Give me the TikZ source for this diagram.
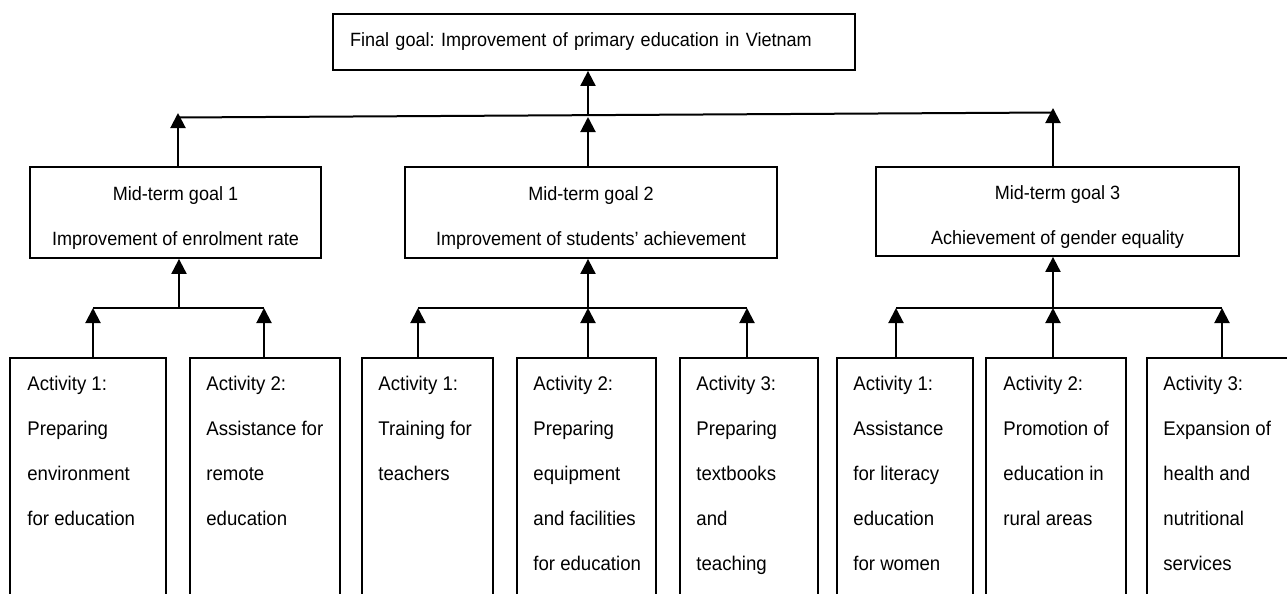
\documentclass[tikz,border=0pt]{standalone}
\usepackage{fontspec}
\setmainfont[FakeStretch=0.94]{Liberation Sans}
\usetikzlibrary{arrows.meta}
\frenchspacing

\begin{document}
\begin{tikzpicture}[x=0.5pt, y=-0.5pt,
	every node/.style={font=\fontsize{9.6}{22.5}\selectfont},
	goalbox/.style={draw, line width=0.9pt, align=center, inner sep=0pt, text height=35pt, text depth=2pt},
	actbox/.style={draw, line width=0.9pt, anchor=north west, inner sep=0pt, minimum height=135pt},
	acttext/.style={anchor=north west, align=left, inner sep=0pt, font=\fontsize{9.9}{22.5}\selectfont},
	arr/.style={line width=1pt, -{Triangle[width=7.5pt,length=7.5pt]}},
	link/.style={line width=1pt}]
	\useasboundingbox (0,0) rectangle (1287,594);
	\clip (0,0) rectangle (1287,594);

	\node[draw, line width=0.9pt, align=left, text width=244pt, inner xsep=8.5pt, minimum height=28pt](G) at (594,42){Final goal: Improvement of primary education in Vietnam};

	\node[goalbox, minimum width=145.5pt, minimum height=45.5pt](M1) at (175.5,212.5){Mid-term goal 1\\Improvement of enrolment rate};
	\node[goalbox, minimum width=186pt, minimum height=45.5pt](M2) at (591,212.5){Mid-term goal 2\\Improvement of students’ achievement};
	\node[goalbox, minimum width=181.5pt, minimum height=44.5pt](M3) at (1057.5,211.5){Mid-term goal 3\\Achievement of gender equality};

	\coordinate(T1) at (178,113);
	\coordinate(T2) at (588,117);
	\coordinate(T3) at (1053,108);
	\coordinate(L1) at (178,117.5);
	\coordinate(L2) at (588,115.2);
	\coordinate(L3) at (1053,112.5);

	\draw[link] (L1) -- (L3);
	\draw[arr] (M1.north -| T1) -- (T1);
	\draw[arr] (M2.north -| T2) -- (T2);
	\draw[arr] (M3.north -| T3) -- (T3);
	\draw[arr] (L2) -- (G.south -| L2);

	% activities
	\node[actbox, minimum width=78pt](A11) at (9,357){};
	\node[actbox, minimum width=75pt](A12) at (189,357){};
	\node[actbox, minimum width=65.5pt](A21) at (361,357){};
	\node[actbox, minimum width=69.5pt](A22) at (516,357){};
	\node[actbox, minimum width=69pt](A23) at (679,357){};
	\node[actbox, minimum width=68pt](A31) at (836,357){};
	\node[actbox, minimum width=70pt](A32) at (985,357){};
	\node[actbox, minimum width=75pt](A33) at (1146,357){};

	\node[acttext](A11t) at ([xshift=9pt, yshift=-9.5pt]A11.north west){Activity 1:\\Preparing\\environment\\for education};
	\node[acttext](A12t) at ([xshift=8.5pt, yshift=-9.5pt]A12.north west){Activity 2:\\Assistance for\\remote\\education};
	\node[acttext](A21t) at ([xshift=8.5pt, yshift=-9.5pt]A21.north west){Activity 1:\\Training for\\teachers};
	\node[acttext](A22t) at ([xshift=8.5pt, yshift=-9.5pt]A22.north west){Activity 2:\\Preparing\\equipment\\and facilities\\for education};
	\node[acttext](A23t) at ([xshift=8.5pt, yshift=-9.5pt]A23.north west){Activity 3:\\Preparing\\textbooks\\and\\teaching};
	\node[acttext](A31t) at ([xshift=8.5pt, yshift=-9.5pt]A31.north west){Activity 1:\\Assistance\\for literacy\\education\\for women};
	\node[acttext](A32t) at ([xshift=9pt, yshift=-9.5pt]A32.north west){Activity 2:\\Promotion of\\education in\\rural areas};
	\node[acttext](A33t) at ([xshift=8.5pt, yshift=-9.5pt]A33.north west){Activity 3:\\Expansion of\\health and\\nutritional\\services};

	\coordinate(B1) at (179,308);
	\coordinate(J11) at (93,308);
	\coordinate(J12) at (264,308);
	\draw[link] (J11) -- (J12);
	\draw[arr] (B1) -- (M1.south -| B1);
	\draw[arr] (A11.north -| J11) -- (J11);
	\draw[arr] (A12.north -| J12) -- (J12);

	\coordinate(B2) at (588,308);
	\coordinate(J21) at (418,308);
	\coordinate(J22) at (588,308);
	\coordinate(J23) at (747,308);
	\draw[link] (J21) -- (J23);
	\draw[arr] (B2) -- (M2.south -| B2);
	\draw[arr] (A21.north -| J21) -- (J21);
	\draw[arr] (A22.north -| J22) -- (J22);
	\draw[arr] (A23.north -| J23) -- (J23);

	\coordinate(B3) at (1053,308);
	\coordinate(J31) at (896,308);
	\coordinate(J32) at (1053,308);
	\coordinate(J33) at (1222,308);
	\draw[link] (J31) -- (J33);
	\draw[arr] (B3) -- (M3.south -| B3);
	\draw[arr] (A31.north -| J31) -- (J31);
	\draw[arr] (A32.north -| J32) -- (J32);
	\draw[arr] (A33.north -| J33) -- (J33);
\end{tikzpicture}
\end{document}
